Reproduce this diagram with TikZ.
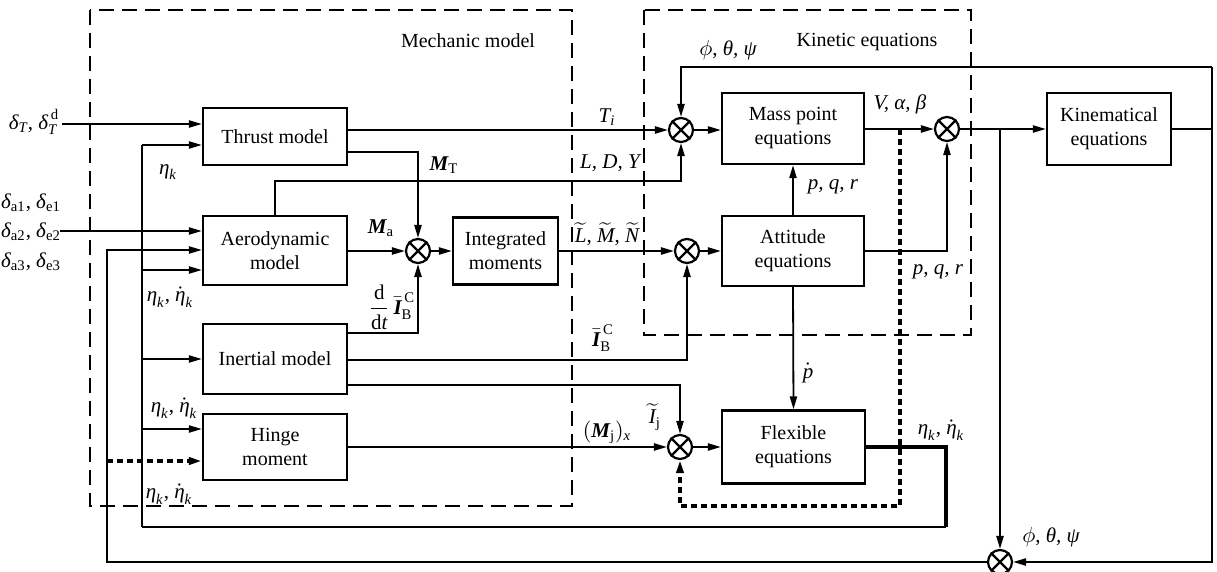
\documentclass[tikz,border=0pt]{standalone}
\usepackage{amsmath,bm}
\usepackage{fontspec}
\setmainfont{Liberation Serif}
\usetikzlibrary{arrows.meta}
\newcommand{\vv}[1]{\text{\itshape #1}}
\newcommand{\bv}[1]{\text{\bfseries\itshape #1}}
\newcommand{\rr}[1]{\text{\upshape\mdseries #1}}
\begin{document}
\begin{tikzpicture}[x=0.5pt,y=-0.5pt,
 blk/.style={draw, line width=1.2pt, inner sep=0pt, align=center, font=\fontsize{10}{12}\selectfont},
 sum/.style={draw, circle, line width=1.1pt, minimum size=12pt, inner sep=0pt},
 ln/.style={line width=0.9pt},
 tip/.style={-{Triangle[length=6.5pt,width=3.6pt]}},
 arr/.style={ln, tip},
 thk/.style={line width=2pt},
 dotl/.style={line width=1.8pt, dash pattern=on 3pt off 2pt},
 frame/.style={line width=0.8pt, dash pattern=on 7.5pt off 4pt},
 lbl/.style={inner sep=0pt, font=\fontsize{10.5}{12}\selectfont},
]
\useasboundingbox (0,0) rectangle (1217,572);

% dashed frames
\draw[frame] (90,10) rectangle (572,506);
\draw[frame] (644,10) rectangle (971,335);
\node[lbl, font=\fontsize{10}{12}\selectfont] (tmech) at (468,41) {Mechanic model};
\node[lbl, font=\fontsize{10}{12}\selectfont] (tkin) at (867,42) {Kinetic equations};

% blocks
\node[blk, minimum width=72pt, minimum height=28.5pt] (thrust) at (275,136.5) {Thrust model};
\node[blk, minimum width=72pt, minimum height=34.5pt] (aero) at (275,250.5) {Aerodynamic\\model};
\node[blk, minimum width=72pt, minimum height=35pt] (inert) at (275,359) {Inertial model};
\node[blk, minimum width=72pt, minimum height=33pt] (hinge) at (275,447) {Hinge\\moment};
\node[blk, minimum width=52.5pt, minimum height=33.5pt] (integ) at (505.5,251) {Integrated\\moments};
\node[blk, minimum width=71pt, minimum height=35.5pt] (mass) at (793,128.5) {Mass point\\equations};
\node[blk, minimum width=71pt, minimum height=35pt] (att) at (793,251) {Attitude\\equations};
\node[blk, minimum width=71.5pt, minimum height=36.5pt] (flex) at (793.5,447) {Flexible\\equations};
\node[blk, minimum width=62pt, minimum height=36pt] (kin) at (1109,129) {Kinematical\\equations};

% summing junctions
\node[sum] (s1) at (681,130) {};
\node[sum] (s2) at (947,129) {};
\node[sum] (s3) at (418,251) {};
\node[sum] (s4) at (687,251) {};
\node[sum] (s5) at (680,447) {};
\node[sum] (s6) at (1000,562) {};
\foreach \s in {s1,s2,s3,s4,s5,s6}
  \draw[line width=1.1pt] (\s.45) -- (\s.225) (\s.135) -- (\s.315);

% routing coordinates
\coordinate (inT) at (62,124);
\coordinate (inA) at (60,231);
\coordinate (bTop) at (142,145);
\coordinate (bA) at (142,270);
\coordinate (bI) at (142,359);
\coordinate (bH) at (142,429);
\coordinate (bBot) at (142,527);
\coordinate (fbR) at (946,447);
\coordinate (fbC) at (946,527);
\coordinate (oTop) at (107,250);
\coordinate (oBot) at (107,562);
\coordinate (dL) at (107,461);
\coordinate (cMT) at (418,152);
\coordinate (cLDY) at (681,181);
\coordinate (cI1) at (418,333);
\coordinate (cI2) at (687,360);
\coordinate (cI3) at (680,385);
\coordinate (cBr) at (1000,129);
\coordinate (kR) at (1212,129);
\coordinate (kTop) at (1212,67);
\coordinate (kBot) at (1212,562);
\coordinate (s1T) at (681,67);
\coordinate (dTop) at (900,129);
\coordinate (dBot) at (900,506);
\coordinate (dS5) at (680,506);

% inputs on the left
\draw[arr] (inT) -- (thrust.west |- inT);
\draw[arr] (inA) -- (aero.west |- inA);

% eta bus
\draw[ln] (bTop) -- (bBot);
\draw[arr] (bTop) -- (thrust.west |- bTop);
\draw[arr] (bA) -- (aero.west |- bA);
\draw[arr] (bI) -- (inert.west |- bI);
\draw[arr] (bH) -- (hinge.west |- bH);
\draw[thk] (flex.east) -- (fbR) -- (fbC);
\draw[line width=1.2pt] (fbC) -- (bBot);

% outer loop
\draw[arr] (s6.west) -- (oBot) -- (oTop) -- (aero.west |- oTop);
\draw[dotl, tip] (dL) -- (hinge.west |- dL);

% mechanic model internals
\draw[arr] (thrust.east |- s1) -- (s1);
\draw[arr] (thrust.east |- cMT) -- (cMT) -- (s3);
\draw[arr] (aero.north) -- (aero.north |- cLDY) -- (cLDY) -- (s1);
\draw[arr] (aero.east |- s3) -- (s3);
\draw[arr] (s3) -- (integ.west |- s3);
\draw[arr] (integ.east |- s4) -- (s4);
\draw[arr] (inert.east |- cI1) -- (cI1) -- (s3);
\draw[arr] (inert.east |- cI2) -- (cI2) -- (s4);
\draw[arr] (inert.east |- cI3) -- (cI3) -- (s5);
\draw[arr] (hinge.east |- s5) -- (s5);

% kinetic part
\draw[arr] (s1) -- (mass.west |- s1);
\draw[arr] (s4) -- (att.west |- s4);
\draw[arr] (s5) -- (flex.west |- s5);
\draw[arr] (att.north) -- (mass.south);
\draw[arr] (att.south) -- (flex.north);
\draw[arr] (mass.east |- s2) -- (s2);
\draw[arr] (att.east) -- (s2 |- att.east) -- (s2);
\draw[arr] (s2) -- (kin.west |- s2);
\draw[arr] (cBr) -- (s6);
\draw[ln] (kin.east) -- (kR);
\draw[arr] (kTop) -- (kBot) -- (s6);
\draw[arr] (kTop) -- (s1T) -- (s1);
\draw[dotl, tip] (dTop) -- (dBot) -- (dS5) -- (s5);

% labels
\node[lbl] (ldT) at (34,122) {$\vv{δ}_{\vv{T}}$, $\vv{δ}_{\vv{T}}^{\,\rr{d}}$};
\node[lbl] (ld1) at (31,203) {$\vv{δ}_{\rr{a1}}$, $\vv{δ}_{\rr{e1}}$};
\node[lbl] (ld2) at (31,232) {$\vv{δ}_{\rr{a2}}$, $\vv{δ}_{\rr{e2}}$};
\node[lbl] (ld3) at (31,262) {$\vv{δ}_{\rr{a3}}$, $\vv{δ}_{\rr{e3}}$};
\node[lbl] (le1) at (168,172) {$\vv{η}_{\vv{k}}$};
\node[lbl] (le2) at (170,297) {$\vv{η}_{\vv{k}}$, $\dot{\vv{η}}_{\vv{k}}$};
\node[lbl] (le3) at (174,408) {$\vv{η}_{\vv{k}}$, $\dot{\vv{η}}_{\vv{k}}$};
\node[lbl] (le4) at (169,494) {$\vv{η}_{\vv{k}}$, $\dot{\vv{η}}_{\vv{k}}$};
\node[lbl] (le5) at (941,430) {$\vv{η}_{\vv{k}}$, $\dot{\vv{η}}_{\vv{k}}$};
\node[lbl] (lphi1) at (728,50) {$\phi$, \itshape θ, ψ};
\node[lbl] (lphi2) at (1051,537) {$\phi$, \itshape θ, ψ};
\node[lbl] (lTi) at (607,117) {$\vv{T}_{\vv{i}}$};
\node[lbl] (lMT) at (444,165) {$\bv{M}_{\rr{T}}$};
\node[lbl] (lLDY) at (610,163) {\itshape L, D, Y};
\node[lbl] (lMa) at (381,228) {$\bv{M}_{\rr{a}}$};
\node[lbl] (lLMN) at (607,234) {$\widetilde{\vv{L}}$, $\widetilde{\vv{M}}$, $\widetilde{\vv{N}}$};
\node[lbl] (lIdt) at (392,307) {$\dfrac{\rr{d}}{\rr{d}\vv{t}}\,\bar{\bv{I}}_{\rr{B}}^{\,\rr{C}}$};
\node[lbl] (lIB) at (603,338) {$\bar{\bv{I}}_{\rr{B}}^{\,\rr{C}}$};
\node[lbl] (lIj) at (655,417) {$\widetilde{\vv{I}}_{\rr{j}}$};
\node[lbl] (lMj) at (607,432) {$(\bv{M}_{\rr{j}})_{\vv{x}}$};
\node[lbl] (lpd) at (808,373) {$\dot{\vv{p}}$};
\node[lbl] (lpqr1) at (833,187) {\itshape p, q, r};
\node[lbl] (lpqr2) at (938,272) {\itshape p, q, r};
\node[lbl] (lVab) at (900,104) {\itshape V, α, β};
\end{tikzpicture}
\end{document}
